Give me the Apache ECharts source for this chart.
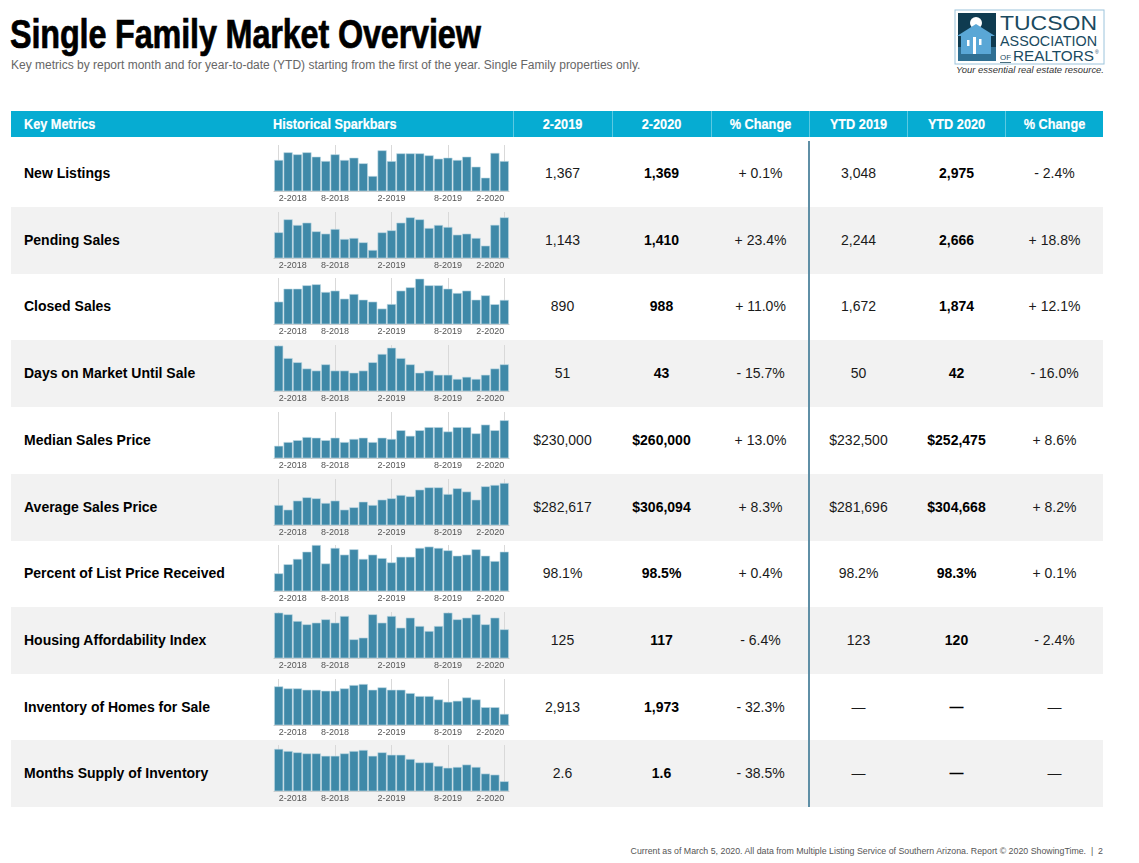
<!DOCTYPE html>
<html lang="en">
<head>
<meta charset="UTF-8">
<title>Single Family Market Overview</title>
<script src="https://cdn.jsdelivr.net/npm/echarts@6/dist/echarts.min.js"></script>
<style>
  html, body { margin: 0; padding: 0; background: #fff; }
  body { width: 1139px; height: 863px; position: relative; overflow: hidden;
         font-family: "Liberation Sans", Arial, Helvetica, sans-serif; color: #111; }
  .abs { position: absolute; }
  #title { left: 10px; top: 14px; font-weight: bold; font-size: 40px; line-height: 40px; color: #000; white-space: nowrap;
           transform: scaleX(0.81); transform-origin: left center; letter-spacing: -0.2px; -webkit-text-stroke: 0.7px #000; }
  #subtitle { left: 11px; top: 58px; font-size: 12px; line-height: 14px; color: #666; white-space: nowrap; }
  #head { left: 11px; top: 111px; width: 1092px; height: 26px; background: #06acd2; }
  .hcell { position: absolute; top: 0; height: 26px; line-height: 26px; color: #fff;
           font-weight: bold; font-size: 15.5px; white-space: nowrap; transform: scaleX(0.82); -webkit-text-stroke: 0.2px #fff; }
  .hsep { position: absolute; top: 0; width: 1px; height: 26px; background: rgba(255,255,255,0.35); }
  .row { position: absolute; left: 11px; width: 1092px; height: 67px; }
  .row.alt { background: #f2f2f2; }
  .lbl { position: absolute; left: 13px; top: 0; line-height: 67px; font-weight: bold; font-size: 14px; color: #000; white-space: nowrap; }
  .val { position: absolute; top: 0; width: 99px; text-align: center; line-height: 67px; font-size: 14px; color: #1a1a1a; white-space: nowrap; }
  .val.b { font-weight: bold; color: #000; }
  #divider { left: 808px; top: 141px; width: 2px; height: 666px; background: #5f8fa6; }
  #spark { left: 265px; top: 140px; width: 250px; height: 667px; }
  #footer { right: 36px; top: 846px; font-size: 8.8px; color: #555; white-space: nowrap; }
</style>
</head>
<body>

<div id="title" class="abs">Single Family Market Overview</div>
<div id="subtitle" class="abs">Key metrics by report month and for year-to-date (YTD) starting from the first of the year. Single Family properties only.</div>

<svg class="abs" style="left:953px;top:9px" width="154" height="68" viewBox="0 0 154 68">
  <rect x="2" y="1" width="149" height="54" fill="#fff" stroke="#9cc4dc" stroke-width="1"/>
  <rect x="5" y="4" width="38" height="48" fill="#0f3b50"/>
  <circle cx="23" cy="14" r="6" fill="#fff"/>
  <rect x="5" y="38" width="38" height="14" fill="#2f6f92"/>
  <polygon points="4,27 23,15 42,27 38,27 38,45 8,45 8,27" fill="#5aa7d6"/>
  <rect x="20" y="28" width="3" height="17" fill="#fff"/>
  <rect x="14" y="31" width="2.5" height="6" fill="#fff"/>
  <rect x="26" y="30" width="2.5" height="6" fill="#fff"/>
  <text x="47" y="21" font-family="Liberation Sans, sans-serif" font-size="20" fill="#1a4a5f" textLength="97" lengthAdjust="spacingAndGlyphs">TUCSON</text>
  <text x="47" y="37" font-family="Liberation Sans, sans-serif" font-size="14" fill="#1a4a5f" textLength="97" lengthAdjust="spacingAndGlyphs">ASSOCIATION</text>
  <text x="47" y="51" font-family="Liberation Sans, sans-serif" font-size="8" fill="#1a4a5f" textLength="11" lengthAdjust="spacingAndGlyphs">OF</text>
  <rect x="47" y="53" width="11" height="0.8" fill="#1a4a5f"/>
  <text x="60" y="52" font-family="Liberation Sans, sans-serif" font-size="14" fill="#1a4a5f" textLength="81" lengthAdjust="spacingAndGlyphs">REALTORS</text>
  <text x="142" y="45" font-family="Liberation Sans, sans-serif" font-size="5" fill="#1a4a5f">®</text>
  <text x="3" y="64" font-family="Liberation Sans, sans-serif" font-style="italic" font-size="8.5" fill="#333" textLength="148" lengthAdjust="spacingAndGlyphs">Your essential real estate resource.</text>
</svg>

<div id="head" class="abs"></div>
<div id="rows"></div>
<div id="divider" class="abs"></div>
<div id="spark" class="abs"></div>
<div id="footer" class="abs">Current as of March 5, 2020. All data from Multiple Listing Service of Southern Arizona. Report &copy; 2020 ShowingTime. &nbsp;|&nbsp; 2</div>

<script type="text/javascript">
// months shown in each sparkbar
var months = ['2-2018','3-2018','4-2018','5-2018','6-2018','7-2018','8-2018','9-2018','10-2018','11-2018','12-2018','1-2019',
              '2-2019','3-2019','4-2019','5-2019','6-2019','7-2019','8-2019','9-2019','10-2019','11-2019','12-2019','1-2020','2-2020'];

var headers = ['Key Metrics', 'Historical Sparkbars', '2-2019', '2-2020', '% Change', 'YTD 2019', 'YTD 2020', '% Change'];

var metricNames = ['New Listings', 'Pending Sales', 'Closed Sales', 'Days on Market Until Sale', 'Median Sales Price',
                   'Average Sales Price', 'Percent of List Price Received', 'Housing Affordability Index',
                   'Inventory of Homes for Sale', 'Months Supply of Inventory'];

var month2019 = ['1,367', '1,143', '890', '51', '$230,000', '$282,617', '98.1%', '125', '2,913', '2.6'];
var month2020 = ['1,369', '1,410', '988', '43', '$260,000', '$306,094', '98.5%', '117', '1,973', '1.6'];
var monthChange = ['+ 0.1%', '+ 23.4%', '+ 11.0%', '- 15.7%', '+ 13.0%', '+ 8.3%', '+ 0.4%', '- 6.4%', '- 32.3%', '- 38.5%'];
var ytd2019 = ['3,048', '2,244', '1,672', '50', '$232,500', '$281,696', '98.2%', '123', '\u2014', '\u2014'];
var ytd2020 = ['2,975', '2,666', '1,874', '42', '$252,475', '$304,668', '98.3%', '120', '\u2014', '\u2014'];
var ytdChange = ['- 2.4%', '+ 18.8%', '+ 12.1%', '- 16.0%', '+ 8.6%', '+ 8.2%', '+ 0.1%', '- 2.4%', '\u2014', '\u2014'];

// sparkbar values, 2-2018 .. 2-2020
var newListings = [1400, 1623, 1564, 1623, 1496, 1370, 1564, 1400, 1467, 1302, 932, 1681,
                   1367, 1593, 1593, 1593, 1535, 1438, 1467, 1400, 1496, 1204, 883, 1606, 1369];
var pendingSales = [1102, 1369, 1253, 1301, 1122, 1075, 1170, 965, 986, 896, 739, 1101,
                    1143, 1301, 1410, 1369, 1191, 1253, 1212, 1054, 1075, 986, 828, 1256, 1410];
var closedSales = [947, 1256, 1256, 1336, 1360, 1177, 1209, 1018, 1129, 994, 947, 782,
                   890, 1209, 1288, 1494, 1336, 1336, 1256, 1153, 1209, 994, 1097, 886, 988];
var daysOnMarket = [52, 46, 44, 41, 40, 43, 40, 40, 39, 40, 44, 48,
                    51, 46, 43, 39, 40, 38, 38, 36, 37, 36, 38, 41, 43];
var medianPrice = [219000, 225000, 228000, 233000, 232000, 228000, 232000, 225000, 230000, 232000, 225000, 232000,
                   230000, 244000, 235000, 244000, 249000, 249000, 242000, 249000, 249000, 239000, 253000, 244000, 260000];
var averagePrice = [272400, 265300, 279100, 284200, 282600, 275500, 279100, 265300, 268900, 277500, 272400, 280600,
                    282617, 287700, 285700, 295900, 299400, 299400, 289200, 298000, 293000, 280600, 301000, 303078, 306094];
var pctListPrice = [97.69, 98.03, 98.23, 98.50, 98.75, 98.06, 98.64, 98.39, 98.59, 98.23, 98.39, 98.26,
                    98.10, 98.31, 98.31, 98.64, 98.69, 98.64, 98.55, 98.35, 98.39, 98.59, 98.35, 98.15, 98.50];
var affordability = [127, 126, 122, 120, 121, 123, 121, 125, 111, 112, 126, 121,
                     125, 118, 124, 119, 116, 119, 127, 123, 124, 126, 120, 124, 117];
var inventory = [3043, 2965, 2965, 2913, 2913, 2874, 2874, 2965, 3095, 3135, 2913, 3004,
                 2913, 2913, 2782, 2666, 2666, 2535, 2444, 2483, 2613, 2535, 2235, 2235, 1973];
var monthsSupply = [2.82, 2.74, 2.69, 2.65, 2.65, 2.56, 2.56, 2.65, 2.74, 2.78, 2.56, 2.69,
                    2.60, 2.60, 2.44, 2.31, 2.31, 2.18, 2.11, 2.14, 2.23, 2.14, 1.89, 1.85, 1.60];

var sparkData = [newListings, pendingSales, closedSales, daysOnMarket, medianPrice,
                 averagePrice, pctListPrice, affordability, inventory, monthsSupply];

// value range of each sparkbar's vertical scale
var sparkMin = [494, 574, 415, 30.2, 199400, 241800, 97.03, 99.8, 1542, 1.233];
var sparkMax = [1837, 1520, 1510, 52.3, 273300, 312200, 98.75, 127.4, 3330, 2.967];

var ROW_TOP = 140, ROW_H = 66.7;
var colLeft = [502, 601, 700, 798, 896, 994];  // relative to row (x - 11)

// header
var head = document.getElementById('head');
var hx = [13, 262];
headers.forEach(function (h, i) {
    var d = document.createElement('div');
    d.className = 'hcell';
    d.textContent = h;
    if (i < 2) {
        d.style.left = hx[i] + 'px';
        d.style.transformOrigin = 'left center';
    } else {
        d.style.left = colLeft[i - 2] + 'px';
        d.style.width = '99px';
        d.style.textAlign = 'center';
        d.style.transformOrigin = 'center center';
        var s = document.createElement('div');
        s.className = 'hsep';
        s.style.left = colLeft[i - 2] + 'px';
        head.appendChild(s);
    }
    head.appendChild(d);
});

// table rows
var rowsEl = document.getElementById('rows');
metricNames.forEach(function (name, i) {
    var r = document.createElement('div');
    r.className = 'row' + (i % 2 ? ' alt' : '');
    r.style.top = (ROW_TOP + i * ROW_H) + 'px';
    var html = '<div class="lbl">' + name + '</div>';
    var vals = [month2019[i], month2020[i], monthChange[i], ytd2019[i], ytd2020[i], ytdChange[i]];
    vals.forEach(function (v, j) {
        var bold = (j === 1 || j === 4);
        html += '<div class="val' + (bold ? ' b' : '') + '" style="left:' + colLeft[j] + 'px">' + v + '</div>';
    });
    r.innerHTML = html;
    rowsEl.appendChild(r);
});

// sparkbars: one echarts instance, one grid per metric
var myChart = echarts.init(document.getElementById('spark'), null, {renderer: 'canvas'});
var grids = [], xAxes = [], yAxes = [], series = [];
var guideMonths = ['2-2018', '8-2018', '2-2019', '8-2019', '2-2020'];
sparkData.forEach(function (data, i) {
    grids.push({left: 9, width: 235, top: Math.round(i * ROW_H + 5), height: 46});
    xAxes.push({
        type: 'category',
        gridIndex: i,
        data: months,
        axisLine: {show: true, lineStyle: {color: '#c8c8c8', width: 1}},
        axisTick: {show: false},
        axisLabel: {interval: 5, fontSize: 9, color: '#555', margin: 3,
                    alignMinLabel: 'left', alignMaxLabel: 'right',
                    fontFamily: 'Liberation Sans, Arial, sans-serif'},
        splitLine: {show: false}
    });
    yAxes.push({type: 'value', gridIndex: i, min: sparkMin[i], max: sparkMax[i], show: false});
    series.push({
        type: 'bar',
        xAxisIndex: i,
        yAxisIndex: i,
        data: data,
        z: 2,
        barCategoryGap: '3%',
        silent: true,
        itemStyle: {color: '#3f89a8', borderColor: '#c2dbe6', borderWidth: 0.6},
        markLine: {
            z: 1,
            silent: true,
            symbol: 'none',
            label: {show: false},
            lineStyle: {color: '#d9d9d9', type: 'solid', width: 1},
            data: guideMonths.map(function (m) { return {xAxis: m}; })
        }
    });
});
myChart.setOption({
    animation: false,
    grid: grids,
    xAxis: xAxes,
    yAxis: yAxes,
    series: series
});
</script>
</body>
</html>
